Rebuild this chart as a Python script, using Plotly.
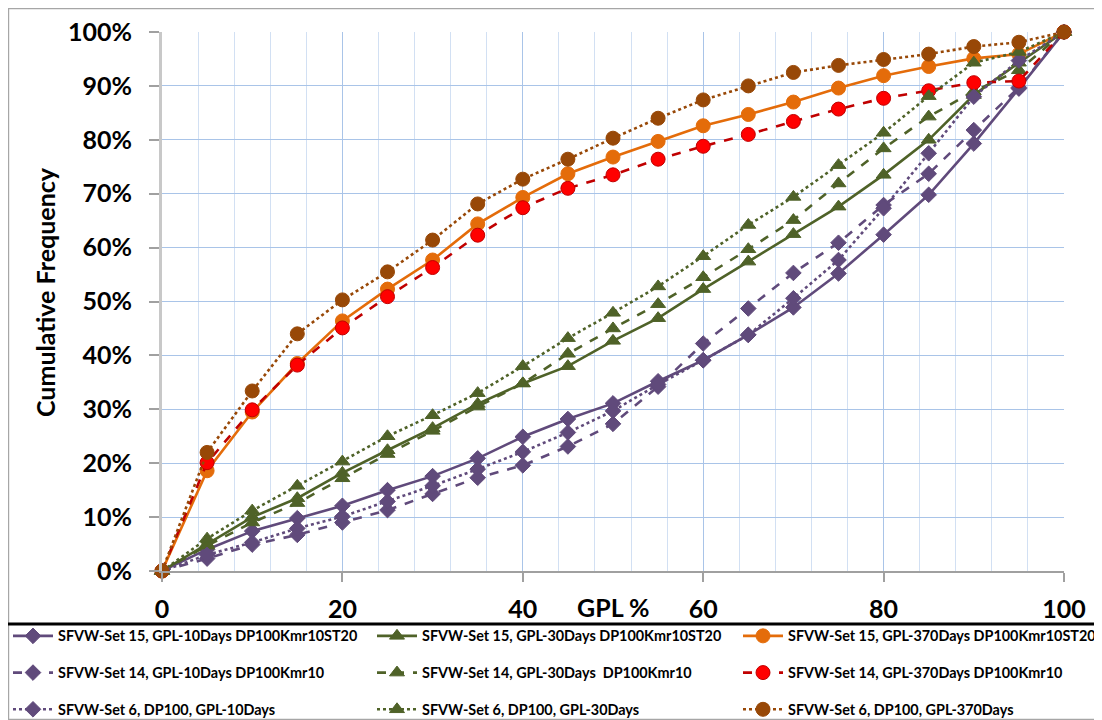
import plotly.graph_objects as go

# ---------------- data ----------------
gpl = [0, 5, 10, 15, 20, 25, 30, 35, 40, 45, 50, 55, 60, 65, 70, 75, 80, 85, 90, 95, 100]

set15_10d = [0, 4.0, 7.4, 9.8, 12.1, 15.0, 17.6, 20.9, 24.9, 28.2, 31.1, 35.2, 39.1, 43.8, 48.9, 55.2, 62.4, 69.8, 79.3, 89.5, 100]
set15_30d = [0, 5.0, 10.0, 13.5, 18.2, 22.4, 26.5, 31.0, 34.8, 38.0, 42.7, 46.9, 52.3, 57.4, 62.5, 67.6, 73.5, 80.0, 88.3, 94.3, 100]
set15_370d = [0, 18.6, 29.5, 38.5, 46.4, 52.3, 57.7, 64.4, 69.3, 73.7, 76.8, 79.7, 82.6, 84.7, 87.0, 89.6, 91.9, 93.6, 95.1, 95.9, 100]
set14_10d = [0, 2.3, 4.9, 6.7, 9.0, 11.3, 14.3, 17.3, 19.6, 23.1, 27.3, 34.2, 42.2, 48.7, 55.3, 60.9, 67.9, 73.7, 81.8, 89.7, 100]
set14_30d = [0, 4.7, 9.0, 12.6, 17.2, 21.7, 26.0, 30.5, 34.8, 40.3, 45.0, 49.5, 54.5, 59.7, 65.1, 71.9, 78.4, 84.3, 89.0, 92.9, 100]
set14_370d = [0, 20.1, 29.9, 38.2, 45.1, 50.9, 56.3, 62.3, 67.4, 71.0, 73.5, 76.4, 78.8, 81.0, 83.4, 85.7, 87.7, 89.1, 90.6, 90.9, 100]
set6_10d = [0, 3.0, 5.3, 7.9, 10.1, 12.9, 15.8, 18.9, 22.1, 25.7, 29.7, 34.6, 39.1, 43.8, 50.6, 57.7, 67.3, 77.5, 88.0, 94.7, 100]
set6_30d = [0, 6.0, 11.2, 15.8, 20.3, 25.0, 28.9, 33.0, 38.0, 43.2, 47.9, 52.8, 58.4, 64.2, 69.4, 75.3, 81.3, 88.1, 94.3, 96.3, 100]
set6_370d = [0, 22.0, 33.4, 44.0, 50.3, 55.5, 61.4, 68.1, 72.7, 76.4, 80.3, 84.0, 87.4, 90.0, 92.5, 93.8, 94.9, 95.9, 97.3, 98.1, 100]

names = [
    "SFVW-Set 15, GPL-10Days DP100Kmr10ST20",
    "SFVW-Set 15, GPL-30Days DP100Kmr10ST20",
    "SFVW-Set 15, GPL-370Days DP100Kmr10ST20",
    "SFVW-Set 14, GPL-10Days DP100Kmr10",
    "SFVW-Set 14, GPL-30Days  DP100Kmr10",
    "SFVW-Set 14, GPL-370Days DP100Kmr10",
    "SFVW-Set 6, DP100, GPL-10Days",
    "SFVW-Set 6, DP100, GPL-30Days",
    "SFVW-Set 6, DP100, GPL-370Days",
]
series = [set15_10d, set15_30d, set15_370d, set14_10d, set14_30d, set14_370d, set6_10d, set6_30d, set6_370d]

y_ticks = [0, 10, 20, 30, 40, 50, 60, 70, 80, 90, 100]
x_ticks = [0, 20, 40, 60, 80, 100]

# ---------------- styles ----------------
PURPLE = "#604A7B"
GREEN = "#4F6228"
ORANGE = "#E46C0A"
RED = "#FF0000"
DKRED = "#C00000"
BROWN = "#984807"

styles = [
    dict(lc=PURPLE, mc=PURPLE, ml=PURPLE, sym="diamond", size=12, dash="solid", leg="legend"),
    dict(lc=GREEN, mc=GREEN, ml=GREEN, sym="triangle-up", size=13, dash="solid", leg="legend2"),
    dict(lc=ORANGE, mc=ORANGE, ml=ORANGE, sym="circle", size=14, dash="solid", leg="legend3"),
    dict(lc=PURPLE, mc=PURPLE, ml=PURPLE, sym="diamond", size=12, dash="dash", leg="legend"),
    dict(lc=GREEN, mc=GREEN, ml=GREEN, sym="triangle-up", size=13, dash="dash", leg="legend2"),
    dict(lc=DKRED, mc=RED, ml=DKRED, sym="circle", size=14, dash="dash", leg="legend3"),
    dict(lc=PURPLE, mc=PURPLE, ml=PURPLE, sym="diamond", size=12, dash="dot", leg="legend"),
    dict(lc=GREEN, mc=GREEN, ml=GREEN, sym="triangle-up", size=13, dash="dot", leg="legend2"),
    dict(lc=BROWN, mc=BROWN, ml=BROWN, sym="circle", size=14, dash="dot", leg="legend3"),
]

fig = go.Figure()
for i, (nm, ys, st) in enumerate(zip(names, series, styles)):
    fig.add_trace(go.Scatter(
        x=gpl, y=ys, name=nm, mode="lines+markers",
        line=dict(color=st["lc"], width=2.6, dash=st["dash"]),
        marker=dict(symbol=st["sym"], size=st["size"], color=st["mc"],
                    line=dict(color=st["ml"], width=1)),
        cliponaxis=False, legend=st["leg"], legendgroup="g%d" % i,
    ))

FONT = "Lato"
OFF = 8  # page body margin offset in the screenshot
W, H = 1094, 712
L, R, T, B = 154, 38, 24, 149
pw, ph = W - L - R, H - T - B

def sx(p):
    """screen x pixel -> paper coordinate"""
    return (p - OFF - L) / pw

def sy(p):
    """screen y pixel -> paper coordinate"""
    return (H - B - (p - OFF)) / ph

legend_common = dict(
    orientation="v", xanchor="left", yanchor="top",
    font=dict(family=FONT, size=14.4, color="#000000", weight="bold"),
    bgcolor="rgba(0,0,0,0)", tracegroupgap=15, itemwidth=40,
    traceorder="grouped",
)

fig.update_layout(
    width=W, height=H,
    margin=dict(l=L, r=R, t=T, b=B, autoexpand=False),
    paper_bgcolor="white", plot_bgcolor="white",
    showlegend=True,
    legend=dict(x=sx(8), y=sy(620), **legend_common),
    legend2=dict(x=sx(372), y=sy(620), **legend_common),
    legend3=dict(x=sx(738), y=sy(620), **legend_common),
    xaxis=dict(
        range=[0, 100], tickvals=x_ticks, ticktext=[str(v) for v in x_ticks],
        showgrid=True, gridcolor="#A9C4E8", gridwidth=1,
        minor=dict(dtick=4, tick0=0, showgrid=True, gridcolor="#D2E0F3", gridwidth=1),
        showline=True, linecolor="#A0A0A0", linewidth=1.5,
        ticks="outside", ticklen=9, tickcolor="#A0A0A0", tickwidth=1.5,
        ticklabelstandoff=6,
        tickfont=dict(family=FONT, size=25, color="#000000", weight="bold"),
        zeroline=False, fixedrange=True,
    ),
    yaxis=dict(
        range=[0, 100], tickvals=y_ticks, ticktext=["%d%%" % v for v in y_ticks],
        showgrid=True, gridcolor="#A9C4E8", gridwidth=1,
        showline=True, linecolor="#C8C8C8", linewidth=3,
        ticks="outside", ticklen=10, tickcolor="#A0A0A0", tickwidth=1.5,
        ticklabelstandoff=12,
        tickfont=dict(family=FONT, size=25, color="#000000", weight="bold"),
        zeroline=False, fixedrange=True,
    ),
    annotations=[
        dict(text="Cumulative Frequency", textangle=-90, xref="paper", yref="paper",
             x=sx(45), y=sy(292), xanchor="center", yanchor="middle", showarrow=False,
             font=dict(family=FONT, size=25, color="#000000", weight="bold")),
        dict(text="GPL %", xref="paper", yref="paper",
             x=sx(613), y=sy(607), xanchor="center", yanchor="middle", showarrow=False,
             font=dict(family=FONT, size=25, color="#000000", weight="bold")),
    ],
    shapes=[
        dict(type="rect", xref="paper", yref="paper",
             x0=sx(8.6), x1=sx(1095), y0=sy(719.4), y1=sy(8.6),
             line=dict(color="#A6A6A6", width=1.2), fillcolor="rgba(0,0,0,0)", layer="below"),
        dict(type="line", xref="paper", yref="paper",
             x0=sx(8), x1=sx(1095), y0=sy(624), y1=sy(624),
             line=dict(color="#000000", width=3)),
    ],
)

fig.write_html("out.html")
